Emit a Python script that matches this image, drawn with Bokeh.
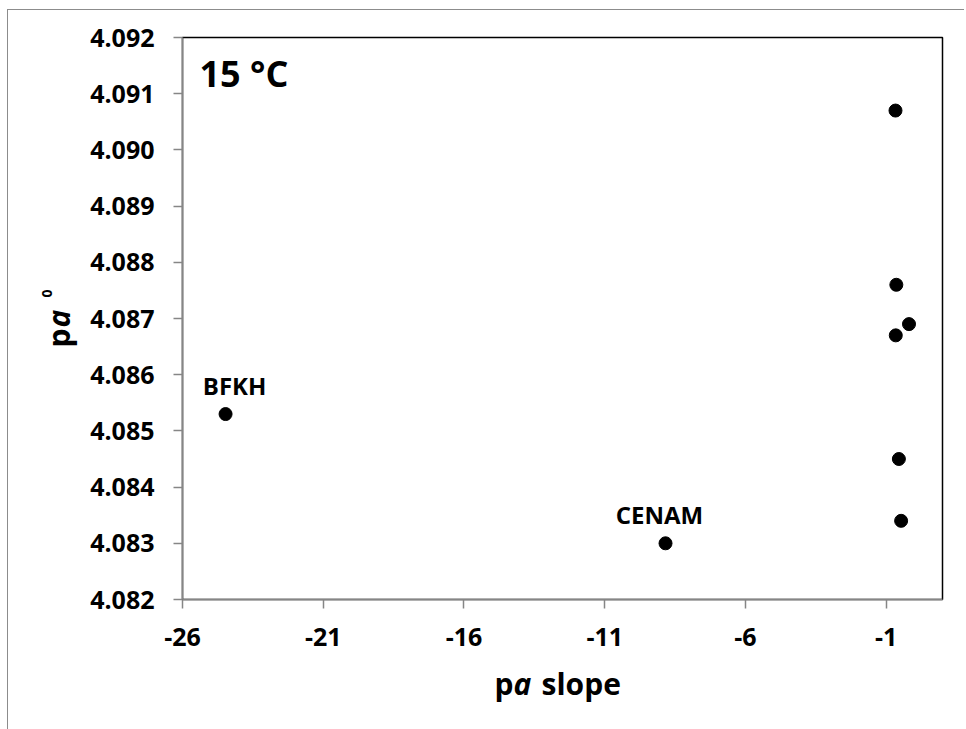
import math
from bokeh.plotting import figure
from bokeh.layouts import row, column
from bokeh.models import Range1d, FixedTicker, NumeralTickFormatter, Label, ColumnDataSource
from bokeh.core.properties import value
from bokeh.embed import file_html
from bokeh.resources import INLINE

# ---- data ----
pa_slope = [-24.47, -8.84, -0.67, -0.64, -0.19, -0.66, -0.55, -0.47]
pa0 = [4.0853, 4.0830, 4.0907, 4.0876, 4.0869, 4.0867, 4.0845, 4.0834]
label_names = ["BFKH", "CENAM"]
label_index = [0, 1]
x_ticks = [-26, -21, -16, -11, -6, -1]
y_ticks = [4.082, 4.083, 4.084, 4.085, 4.086, 4.087, 4.088, 4.089, 4.090, 4.091, 4.092]
panel_title = "15 °C"

FONT = "Open Sans"
W_LEFT = 75
W_MAIN = 881
H_MAIN = 652
H_BOTTOM = 67
H_ALL = H_MAIN + H_BOTTOM

p = figure(width=W_MAIN, height=H_MAIN, output_backend="svg", toolbar_location=None,
           x_range=Range1d(-26, 1), y_range=Range1d(4.082, 4.092),
           min_border_left=99, min_border_top=27, min_border_right=22,
           min_border_bottom=63)

p.grid.visible = False
p.outline_line_color = "black"
p.outline_line_width = 1.5
p.background_fill_color = "white"
p.border_fill_color = "white"

for ax in (p.xaxis[0], p.yaxis[0]):
    ax.axis_line_color = "#868686"
    ax.axis_line_width = 1.5
    ax.major_tick_line_color = "#868686"
    ax.major_tick_line_width = 1.5
    ax.major_tick_out = 9
    ax.major_tick_in = 0
    ax.minor_tick_line_color = None
    ax.major_label_text_font = FONT
    ax.major_label_text_font_style = "bold"
    ax.major_label_text_font_size = "25px"
    ax.major_label_text_color = "black"

p.xaxis.ticker = FixedTicker(ticks=x_ticks)
p.yaxis.ticker = FixedTicker(ticks=y_ticks)
p.yaxis.formatter = NumeralTickFormatter(format="0.000")
p.xaxis.formatter = NumeralTickFormatter(format="0")
p.xaxis.major_label_standoff = 19
p.yaxis.major_label_standoff = 19

p.scatter(pa_slope, pa0, size=13, color="black")

lab_src = ColumnDataSource(dict(
    x=[pa_slope[i] for i in label_index],
    y=[pa0[i] for i in label_index],
    t=label_names,
    dx=[9, -6],
))
p.text(x="x", y="y", text="t", source=lab_src, x_offset="dx", y_offset=-29,
       text_align="center", text_baseline="alphabetic",
       text_font=value(FONT), text_font_style="bold", text_font_size="24px",
       text_color="black")

p.add_layout(Label(x=17, y=526, x_units="screen", y_units="screen", text=panel_title,
                   text_font=FONT, text_font_style="bold", text_font_size="36px",
                   text_color="black", text_baseline="alphabetic", text_align="left"))


def blank_fig(w, h):
    f = figure(width=w, height=h, output_backend="svg", toolbar_location=None,
               x_axis_type=None, y_axis_type=None, min_border=0,
               x_range=Range1d(0, 1), y_range=Range1d(0, 1))
    f.grid.visible = False
    f.outline_line_color = None
    f.background_fill_color = "white"
    f.border_fill_color = "white"
    return f


def lab(f, text, x, y, style="bold", size=30, angle=0.0, align="left"):
    f.add_layout(Label(x=x, y=y, x_units="screen", y_units="screen", text=text, angle=angle,
                       text_font=FONT, text_font_style=style, text_font_size=f"{size}px",
                       text_color="black", text_align=align, text_baseline="alphabetic"))


# x-axis title: p (bold) a (bold italic) slope (bold)
fx = blank_fig(W_MAIN, H_BOTTOM)
lab(fx, "p", 331, 46, align="right")
lab(fx, "a", 331, 46, style="bold italic")
lab(fx, "slope", 359, 46)

# y-axis title: p a ^0, rotated
fy = blank_fig(W_LEFT, H_ALL)
lab(fy, "p", 50, 382, angle=math.pi / 2)
lab(fy, "a", 50, 402, style="bold italic", angle=math.pi / 2)
lab(fy, "0", 38, 432, size=14, angle=math.pi / 2)

layout = row(fy, column(p, fx))
layout.styles = {"border-top": "1px solid #8c8c8c", "border-left": "1px solid #8c8c8c",
                 "margin-left": "7px", "margin-top": "9px"}

open("out.html", "w").write(file_html(layout, INLINE))
